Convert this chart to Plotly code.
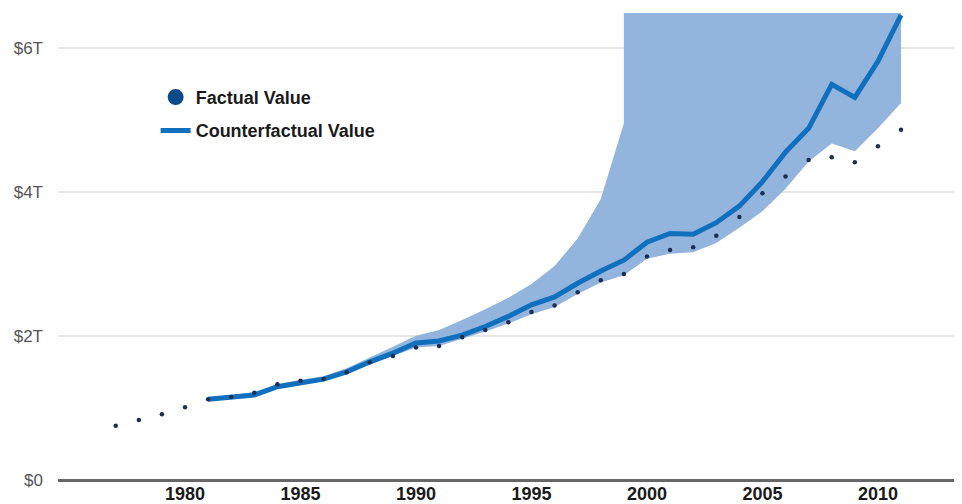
import plotly.graph_objects as go

# ---- data (trillions of dollars) ----
factual_years = list(range(1977, 2012))
factual_values = [0.754, 0.833, 0.912, 1.009, 1.12, 1.152, 1.212, 1.328, 1.378, 1.40,
                  1.495, 1.633, 1.72, 1.84, 1.86, 1.98, 2.08, 2.19, 2.33, 2.42,
                  2.605, 2.77, 2.86, 3.10, 3.19, 3.23, 3.39, 3.65, 3.98, 4.21,
                  4.44, 4.48, 4.41, 4.63, 4.86]

cf_years = list(range(1981, 2012))
cf_values = [1.12, 1.15, 1.18, 1.295, 1.35, 1.40, 1.50, 1.64, 1.76, 1.90,
             1.93, 2.01, 2.13, 2.27, 2.43, 2.54, 2.73, 2.90, 3.05, 3.30,
             3.42, 3.41, 3.57, 3.80, 4.14, 4.55, 4.88, 5.49, 5.31, 5.81, 6.45]

band_lower_years = list(range(1981, 2012))
band_lower = [1.10, 1.13, 1.16, 1.27, 1.33, 1.37, 1.47, 1.60, 1.72, 1.84,
              1.86, 1.96, 2.06, 2.17, 2.30, 2.40, 2.58, 2.74, 2.84, 3.07,
              3.14, 3.16, 3.29, 3.50, 3.73, 4.04, 4.42, 4.67, 4.56, 4.88, 5.23]

# upper bound is unbounded (off the chart) from 1999 on
band_upper_years = list(range(1981, 2000)) + list(range(1999, 2012))
band_upper = [1.15, 1.18, 1.22, 1.33, 1.39, 1.44, 1.55, 1.70, 1.85, 2.00,
              2.08, 2.22, 2.37, 2.53, 2.72, 2.97, 3.35, 3.90, 4.95,
              12, 12, 12, 12, 12, 12, 12, 12, 12, 12, 12, 12, 12]

y_tickvals = [0, 2, 4, 6]
y_ticktext = ["$0", "$2T", "$4T", "$6T"]
x_tickvals = [1980, 1985, 1990, 1995, 2000, 2005, 2010]

LINE_BLUE = "#1070bd"
BAND_BLUE = "#93b4dd"
DOT_NAVY = "#1c2f52"
LEGEND_NAVY = "#0c4a8a"

fig = go.Figure()

# confidence band as a closed polygon
fig.add_trace(go.Scatter(
    x=band_upper_years + band_lower_years[::-1],
    y=band_upper + band_lower[::-1],
    fill="toself", fillcolor=BAND_BLUE, mode="none",
    showlegend=False, hoverinfo="skip"))

fig.add_trace(go.Scatter(
    x=cf_years, y=cf_values, mode="lines",
    line=dict(color=LINE_BLUE, width=5),
    name="Counterfactual Value", legendgroup="b", legendrank=2))

fig.add_trace(go.Scatter(
    x=factual_years, y=factual_values, mode="markers",
    marker=dict(color=DOT_NAVY, size=4.5),
    name="Factual Value", showlegend=False))

# legend-only entry with the large circle
fig.add_trace(go.Scatter(
    x=[None], y=[None], mode="markers",
    marker=dict(color=LEGEND_NAVY, size=17),
    name="Factual Value", legendgroup="a", legendrank=1))

# the page body has an 8px margin, so the figure is sized to fill the window from there
fig.update_layout(
    width=954, height=496,
    margin=dict(l=50, r=0, t=5, b=24, autoexpand=False),
    paper_bgcolor="white", plot_bgcolor="white",
    font=dict(family="Liberation Sans, Arial, sans-serif"),
    legend=dict(
        x=0.108, y=0.859, xanchor="left", yanchor="top",
        bgcolor="rgba(0,0,0,0)",
        font=dict(size=18, color="#1a1a1a", family="Liberation Sans, Arial, sans-serif", weight="bold"),
        itemsizing="trace", traceorder="grouped", tracegroupgap=7,
    ),
    xaxis=dict(
        range=[1974.5, 2013.64],
        tickvals=x_tickvals,
        showgrid=False, zeroline=False,
        showline=False, ticks="",
        tickfont=dict(size=18, color="#1a1a1a", weight="bold"),
        ticklabelstandoff=1,
        automargin=False,
    ),
    yaxis=dict(
        range=[0, 6.48],
        tickvals=y_tickvals, ticktext=y_ticktext,
        showgrid=True, gridcolor="#e6e6e6", gridwidth=1.5,
        zeroline=True, zerolinecolor="#666666", zerolinewidth=2.5,
        showline=False, ticks="",
        tickfont=dict(size=17, color="#555555"),
        ticklabelstandoff=14,
        automargin=False,
    ),
    showlegend=True,
)

fig.write_html("out.html")
